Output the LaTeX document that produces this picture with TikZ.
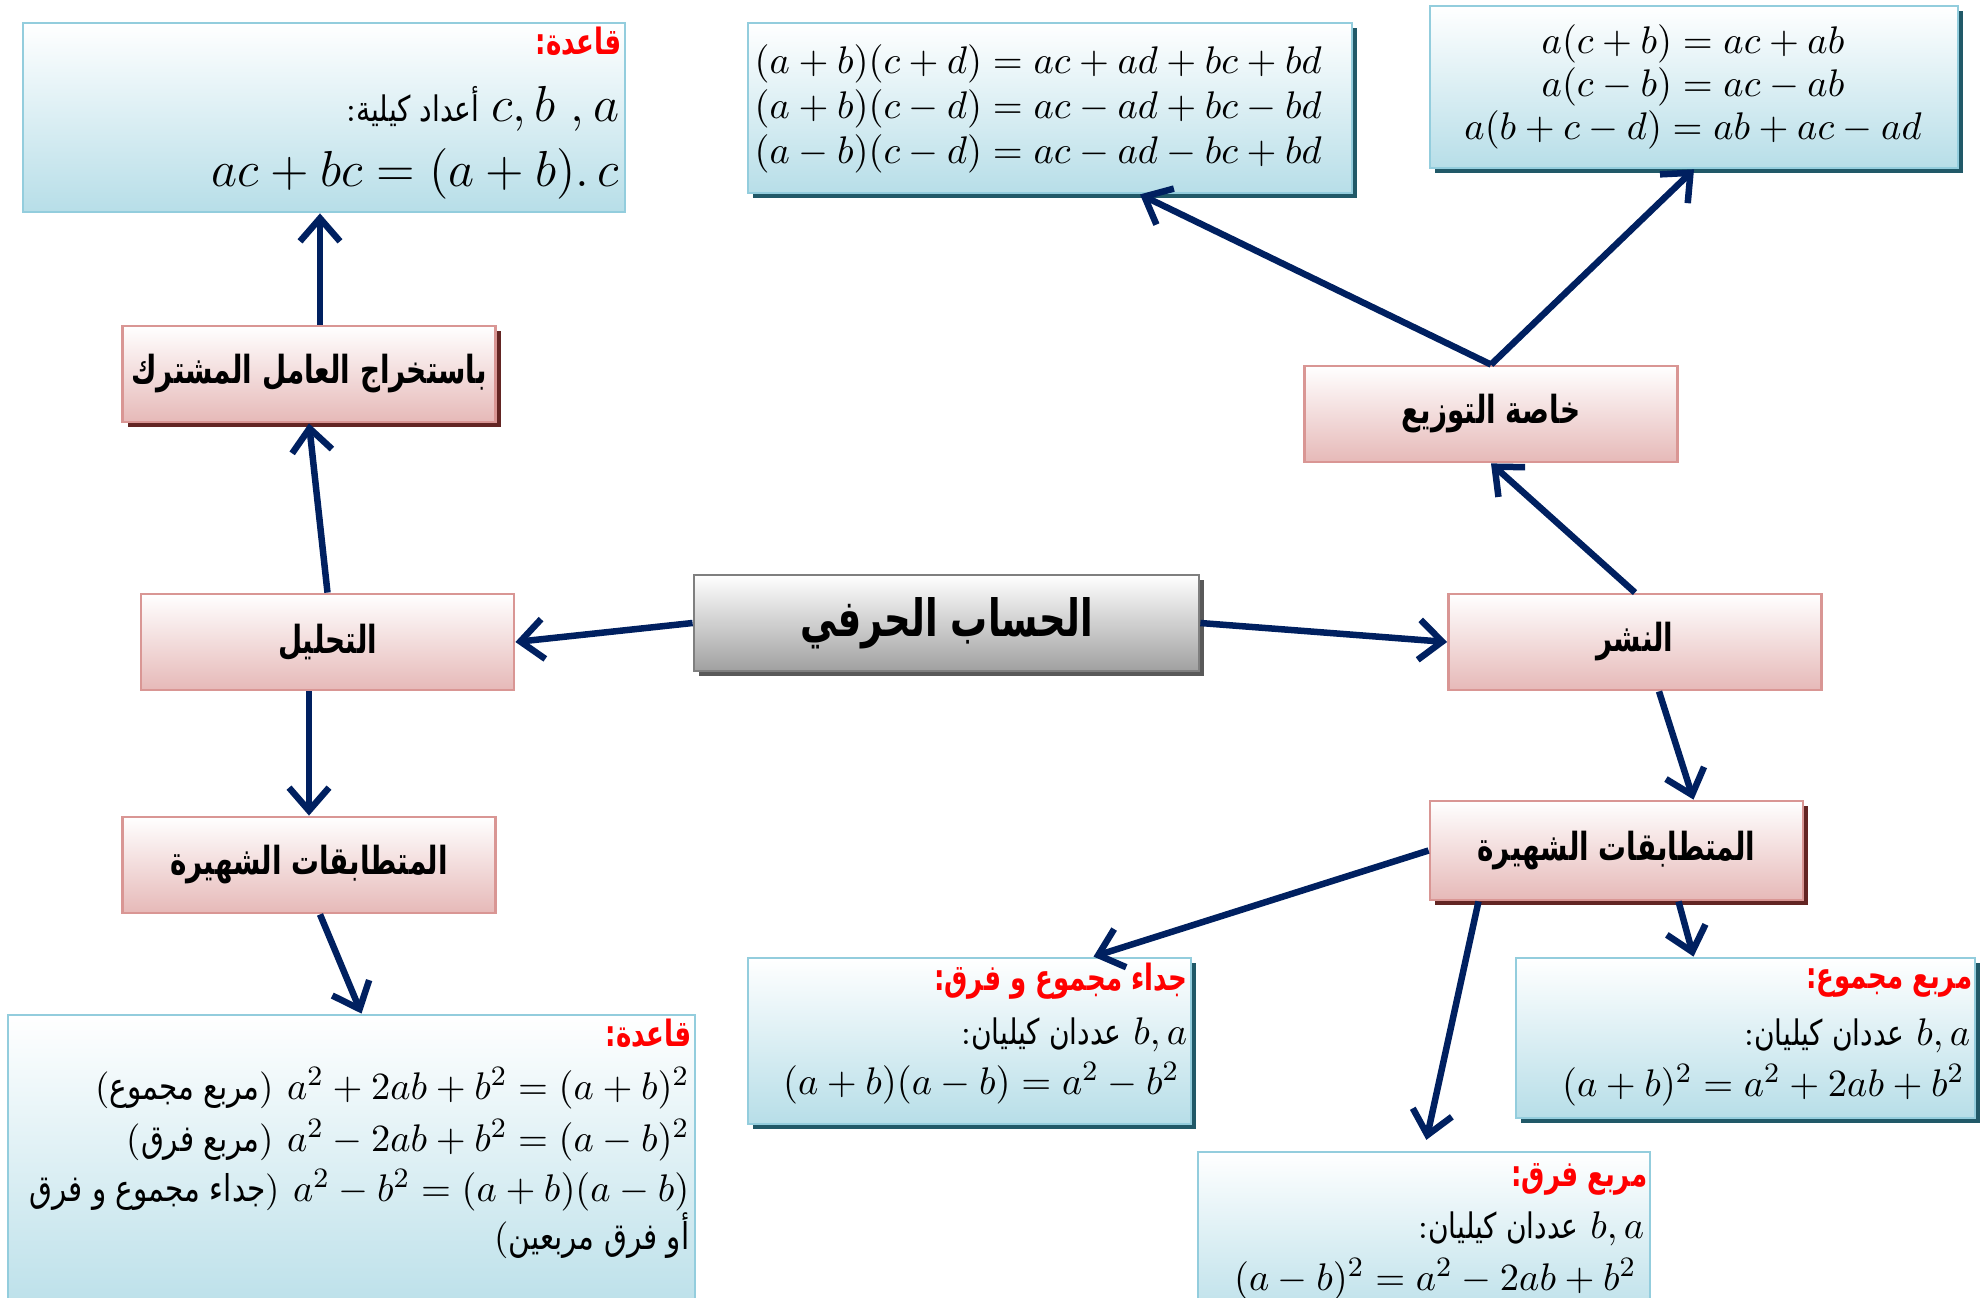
\documentclass[tikz,border=0pt]{standalone}
\usepackage{fontspec}
\newfontfamily\arabicfont[Script=Arabic, FakeStretch=0.8]{DejaVu Sans}
\newfontfamily\arabicbfont[Script=Arabic, FakeStretch=0.72]{DejaVu Sans Bold}
\TeXXeTstate=1
\usetikzlibrary{arrows.meta,shadows}

\definecolor{arrowblue}{HTML}{002060}
\definecolor{boxblue}{HTML}{B7DEE8}
\definecolor{edgeblue}{HTML}{93CDDD}
\definecolor{shadeblue}{HTML}{215968}
\definecolor{boxred}{HTML}{E6B9B8}
\definecolor{edgered}{HTML}{D99694}
\definecolor{shadered}{HTML}{632523}
\definecolor{boxgray}{HTML}{A0A0A0}
\definecolor{edgegray}{HTML}{7F7F7F}
\definecolor{shadegray}{HTML}{595959}
\definecolor{headred}{HTML}{FF0000}

\newcommand{\fsz}[1]{\fontsize{#1pt}{#1pt}\selectfont}
\newcommand{\arab}[1]{{\arabicfont\beginR #1\endR}}
\newcommand{\arabb}[1]{{\arabicbfont\beginR #1\endR}}
\newcommand{\redhead}[1]{{\color{headred}\arabicbfont :\beginR #1\endR}}

\begin{document}
\begin{tikzpicture}[x=0.1mm, y=-0.1mm,
		bluebox/.style={draw=edgeblue, line width=0.8pt, top color=white, bottom color=boxblue, inner sep=0pt},
		redbox/.style={draw=edgered, line width=0.8pt, top color=white, bottom color=boxred, inner sep=0pt, minimum width=37.3mm, minimum height=9.6mm, font=\fsz{11}},
		graybox/.style={draw=edgegray, line width=0.8pt, top color=white, bottom color=boxgray, inner sep=0pt, font=\fsz{14.6}},
		boxshadow/.style={drop shadow={shadow xshift=0.5mm, shadow yshift=-0.5mm, fill=#1, opacity=1}},
		arrowline/.style={draw=arrowblue, line width=0.65mm, -{Straight Barb[length=2.3mm, width=4mm]}},
		mathline/.style={inner sep=0pt, font=\fsz{11.3}},
		textline/.style={inner sep=0pt, font=\fsz{10}},
		headline/.style={inner sep=0pt, font=\fsz{10.3}}
	]

		\useasboundingbox (0,0) rectangle (1981,1298);

		% draw the blue boxes
		\node[bluebox, minimum width=60.2mm, minimum height=18.9mm] (A) at (324,117.5) {};
		\node[bluebox, boxshadow=shadeblue, minimum width=60.4mm, minimum height=17mm] (B) at (1050,108) {};
		\node[bluebox, boxshadow=shadeblue, minimum width=52.8mm, minimum height=16.2mm] (C) at (1694,87) {};
		\node[bluebox, minimum width=68.7mm, minimum height=31.5mm] (K) at (351.5,1172.5) {};
		\node[bluebox, boxshadow=shadeblue, minimum width=44.3mm, minimum height=16.6mm] (L) at (969.5,1041) {};
		\node[bluebox, boxshadow=shadeblue, minimum width=45.9mm, minimum height=16mm] (M) at (1745.5,1038) {};
		\node[bluebox, minimum width=45.2mm, minimum height=17.8mm] (N) at (1424,1241) {};

		% draw the red boxes
		\node[redbox, boxshadow=shadered] (D) at (309,374) {\arabb{باستخراج العامل المشترك}};
		\node[redbox] (E) at (1491,414) {\arabb{خاصة التوزيع}};
		\node[redbox] (G) at (327.5,642) {\arabb{التحليل}};
		\node[redbox] (H) at (1635,642) {\arabb{النشر}};
		\node[redbox] (I) at (309,865) {\arabb{المتطابقات الشهيرة}};
		\node[redbox, boxshadow=shadered, minimum height=9.9mm] (J) at (1616.5,850.5) {\arabb{المتطابقات الشهيرة}};

		% draw the centre box
		\node[graybox, boxshadow=shadegray, minimum width=50.5mm, minimum height=9.6mm] (F) at (946.5,623) {\arabb{الحساب الحرفي}};

		% texts of the top boxes
		\node[headline, anchor=base east] (A1) at (622,55) {\redhead{قاعدة}};
		\node[textline, anchor=base east] (A2) at (620,122) {:\arab{أعداد كيلية} {\fsz{13.3}$c, b\ , a$}};
		\node[mathline, font=\fsz{14.4}, anchor=base east] (A3) at (620,187) {$ac+bc=(a+b).\,c$};

		\node[mathline, anchor=base west] (B1) at (754,74) {$(a+b)(c+d)=ac+ad+bc+bd$};
		\node[mathline, anchor=base west] (B2) at (754,119) {$(a+b)(c-d)=ac-ad+bc-bd$};
		\node[mathline, anchor=base west] (B3) at (754,164) {$(a-b)(c-d)=ac-ad-bc+bd$};

		\node[mathline, anchor=base] (C1) at (1693,54) {$a(c+b)=ac+ab$};
		\node[mathline, anchor=base] (C2) at (1693,97) {$a(c-b)=ac-ab$};
		\node[mathline, anchor=base] (C3) at (1693,140) {$a(b+c-d)=ab+ac-ad$};

		% texts of the bottom boxes
		\node[headline, anchor=base east] (K1) at (692,1046) {\redhead{قاعدة}};
		\node[mathline, anchor=base east] (K2) at (690,1099) {{\fsz{10.5}(\arab{مربع مجموع})} $a^2+2ab+b^2=(a+b)^2$};
		\node[mathline, anchor=base east] (K3) at (690,1151) {{\fsz{10.5}(\arab{مربع فرق})} $a^2-2ab+b^2=(a-b)^2$};
		\node[mathline, anchor=base east] (K4) at (690,1201) {{\fsz{10.5}\arab{جداء مجموع و فرق})} $a^2-b^2=(a+b)(a-b)$};
		\node[mathline, anchor=base east] (K5) at (690,1249) {{\fsz{10.5}(\arab{أو فرق مربعين}}};

		\node[headline, anchor=base east] (L1) at (1188,990) {\redhead{جداء مجموع و فرق}};
		\node[textline, anchor=base east] (L2) at (1188,1044) {:\arab{عددان كيليان} {\fsz{11.3}$b, a$}};
		\node[mathline, anchor=base east] (L3) at (1180,1094) {$(a+b)(a-b)=a^2-b^2$};

		\node[headline, anchor=base east] (M1) at (1973,988) {\redhead{مربع مجموع}};
		\node[textline, anchor=base east] (M2) at (1971,1045) {:\arab{عددان كيليان} {\fsz{11.3}$b, a$}};
		\node[mathline, anchor=base east] (M3) at (1965,1096) {$(a+b)^2=a^2+2ab+b^2$};

		\node[headline, anchor=base east] (N1) at (1648,1186) {\redhead{مربع فرق}};
		\node[textline, anchor=base east] (N2) at (1645,1238) {:\arab{عددان كيليان} {\fsz{11.3}$b, a$}};
		\node[mathline, anchor=base east] (N3) at (1637,1290) {$(a-b)^2=a^2-2ab+b^2$};

		% draw the arrows
		\foreach \from/\to in {F.west/G.east, F.east/H.west, G.north/D.south, H.north/E.south, E.north/C.south}
			\draw[arrowline] (\from) -- (\to);
		\draw[arrowline] ([xshift=1.1mm]D.north) -- ([xshift=1.1mm]D.north |- A.south);
		\draw[arrowline] (G.south -| I.north) -- (I.north);
		\draw[arrowline] ([xshift=1.1mm]I.south) -- ([xshift=1mm]K.north);
		\draw[arrowline] (E.north) -- ([xshift=9mm]B.south);
		\draw[arrowline] ([xshift=2.4mm]H.south) -- ([xshift=7.7mm]J.north);
		\draw[arrowline] (J.west) -- ([xshift=12.4mm]L.north);
		\draw[arrowline, shorten >=1.1mm] ([xshift=-13.8mm]J.south) -- (N.north);
		\draw[arrowline] ([xshift=6.2mm]J.south) -- ([xshift=-5.2mm]M.north);
	\end{tikzpicture}
\end{document}
